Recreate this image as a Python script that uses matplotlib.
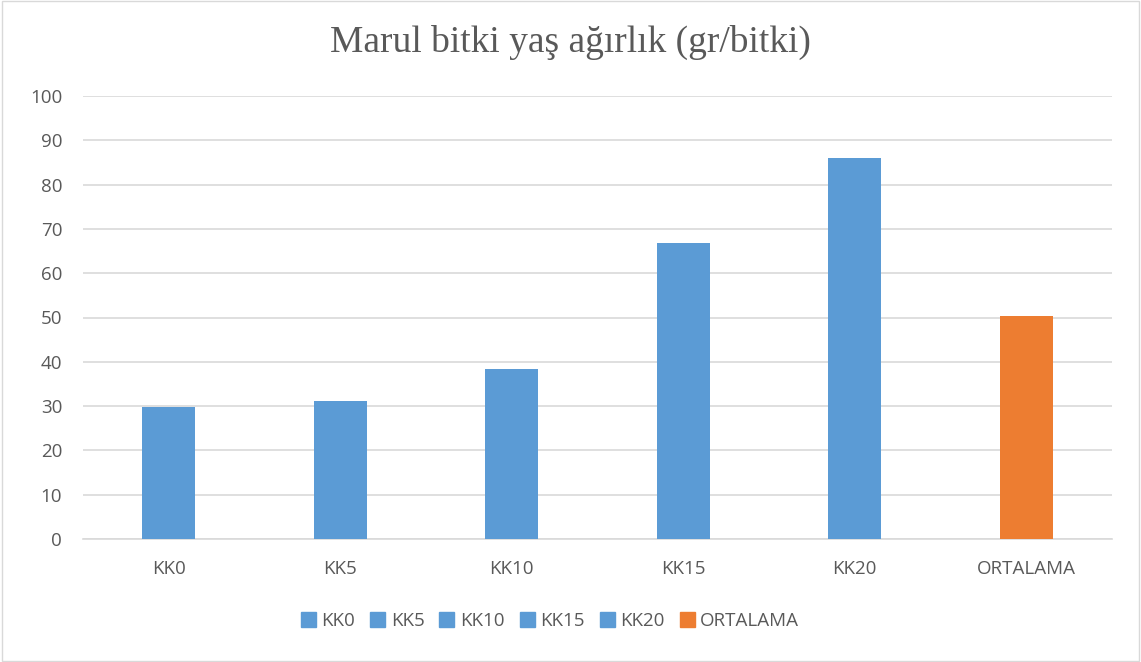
import matplotlib
matplotlib.use("Agg")
import matplotlib.pyplot as plt
from matplotlib.patches import Patch, Rectangle

categories = ["KK0", "KK5", "KK10", "KK15", "KK20", "ORTALAMA"]
values = [29.8, 31.1, 38.3, 66.8, 86.1, 50.4]
colors = ["#5b9bd5", "#5b9bd5", "#5b9bd5", "#5b9bd5", "#5b9bd5", "#ed7d31"]
yticks = [0, 10, 20, 30, 40, 50, 60, 70, 80, 90, 100]

text_color = "#595959"
plt.rcParams["font.family"] = ["Open Sans", "DejaVu Sans"]

fig = plt.figure(figsize=(11.41, 6.62), dpi=100)
ax = fig.add_axes([83 / 1141, 1 - 539 / 662, (1112 - 83) / 1141, (539 - 96) / 662])

x = range(len(categories))
ax.bar(x, values, width=0.31, color=colors, zorder=3)

ax.set_xlim(-0.5, len(categories) - 0.5)
ax.set_ylim(0, 100)
ax.set_yticks(yticks)
ax.set_xticks(list(x))
ax.set_xticklabels(categories)
ax.tick_params(axis="both", length=0, colors=text_color, labelsize=13.5)
ax.tick_params(axis="y", pad=15)
ax.tick_params(axis="x", pad=15)
ax.grid(axis="y", color="#d9d9d9", linewidth=1.2, zorder=0)
for s in ["top", "right", "left"]:
    ax.spines[s].set_visible(False)
ax.spines["bottom"].set_color("#d9d9d9")
ax.spines["bottom"].set_linewidth(1.2)

fig.text(0.5, 1 - 42 / 662, "Marul bitki yaş ağırlık (gr/bitki)", ha="center", va="center",
         fontsize=27, color=text_color, family=["Liberation Serif", "DejaVu Serif"])

handles = [Patch(color=c, label=l) for c, l in zip(colors, categories)]
fig.legend(handles=handles, loc="center", bbox_to_anchor=(550 / 1141, 1 - 621 / 662), ncol=6,
           frameon=False, fontsize=13.5, handlelength=0.8, handleheight=0.8,
           handletextpad=0.3, columnspacing=0.8, labelcolor=text_color)

fig.patches.append(Rectangle((0.002, 0.002), 0.996, 0.996, transform=fig.transFigure,
                             fill=False, edgecolor="#d9d9d9", linewidth=1))

fig.savefig("out.png", dpi=100)
